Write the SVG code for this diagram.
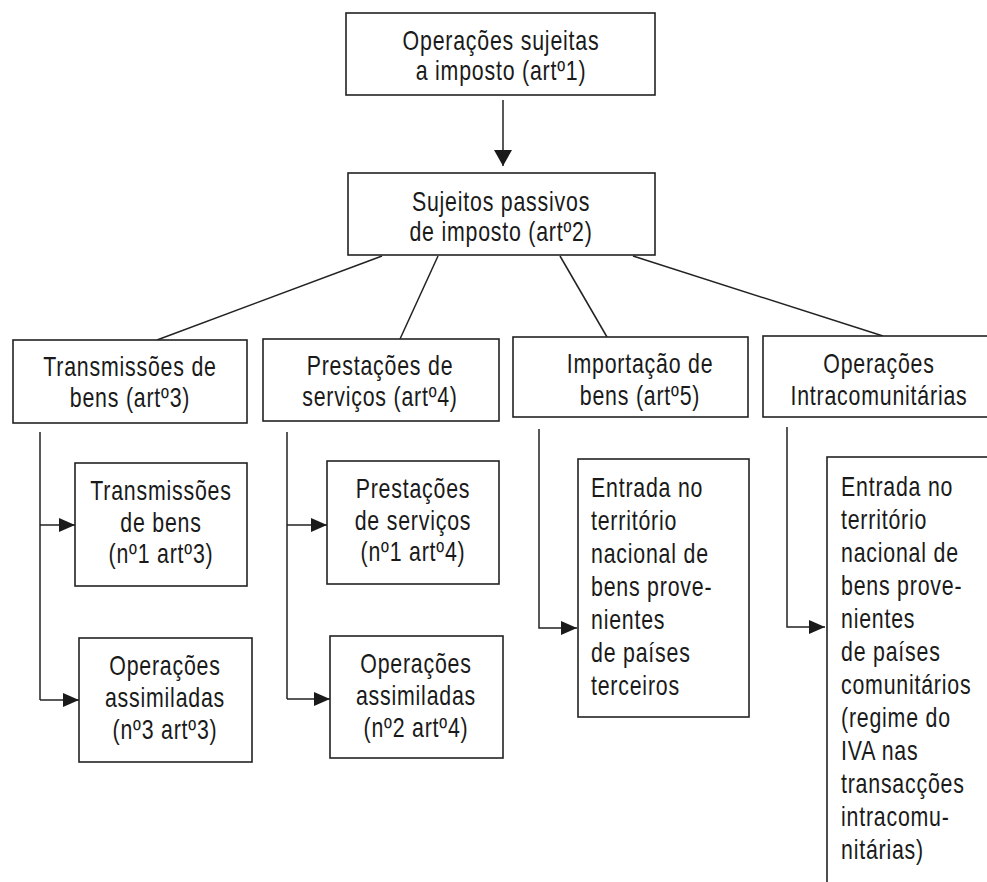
<svg xmlns="http://www.w3.org/2000/svg" width="987" height="882" viewBox="0 0 987 882">
<style>
.box{fill:#fff;stroke:#222;stroke-width:1.6}
.ln{fill:none;stroke:#222;stroke-width:1.5}
text{font-family:"Liberation Sans",Arial,sans-serif;font-size:27px;fill:#1a1a1a;letter-spacing:1px}
.c{text-anchor:middle}
</style>
<defs>
<marker id="ah" viewBox="0 0 16 14" refX="16" refY="7" markerWidth="16" markerHeight="14" markerUnits="userSpaceOnUse" orient="auto">
<path d="M0,0 L16,7 L0,14 Z" fill="#1a1a1a"/>
</marker>
<marker id="ahv" viewBox="0 0 16 18" refX="16" refY="9" markerWidth="16" markerHeight="18" markerUnits="userSpaceOnUse" orient="auto">
<path d="M0,0 L16,9 L0,18 Z" fill="#1a1a1a"/>
</marker>
</defs>
<rect width="987" height="882" fill="#fff"/>
<g id="connectors">
<line class="ln" x1="503" y1="100" x2="503" y2="166" marker-end="url(#ahv)"/>
<line class="ln" x1="382" y1="256" x2="157" y2="340"/>
<line class="ln" x1="438" y1="256" x2="400" y2="339"/>
<line class="ln" x1="560" y1="256" x2="607" y2="337"/>
<line class="ln" x1="633" y1="256" x2="883" y2="336"/>
<path class="ln" d="M40,432 V700"/>
<line class="ln" x1="40" y1="525" x2="75" y2="525" marker-end="url(#ah)"/>
<line class="ln" x1="40" y1="700" x2="79" y2="700" marker-end="url(#ah)"/>
<path class="ln" d="M287,432 V699"/>
<line class="ln" x1="287" y1="525" x2="327" y2="525" marker-end="url(#ah)"/>
<line class="ln" x1="287" y1="699" x2="330" y2="699" marker-end="url(#ah)"/>
<path class="ln" d="M539,429 V628 H577" marker-end="url(#ah)"/>
<path class="ln" d="M787,427 V627 H825" marker-end="url(#ah)"/>
</g>
<g id="n-operacoes">
<rect class="box" x="346" y="13" width="309" height="82"/>
<text class="c" transform="matrix(0.79 0 0 1 501 50)">Operações sujeitas</text>
<text class="c" transform="matrix(0.79 0 0 1 501 80)">a imposto (artº1)</text>
</g>
<g id="n-sujeitos">
<rect class="box" x="348" y="173" width="307" height="82"/>
<text class="c" transform="matrix(0.79 0 0 1 501 211)">Sujeitos passivos</text>
<text class="c" transform="matrix(0.79 0 0 1 501 241)">de imposto (artº2)</text>
</g>
<g id="n-transmissoes">
<rect class="box" x="13" y="340" width="234" height="83"/>
<text class="c" transform="matrix(0.79 0 0 1 130 376)">Transmissões de</text>
<text class="c" transform="matrix(0.79 0 0 1 130 407)">bens (artº3)</text>
</g>
<g id="n-prestacoes">
<rect class="box" x="263" y="339" width="236" height="82"/>
<text class="c" transform="matrix(0.79 0 0 1 380 375)">Prestações de</text>
<text class="c" transform="matrix(0.79 0 0 1 380 406)">serviços (artº4)</text>
</g>
<g id="n-importacao">
<rect class="box" x="513" y="337" width="235" height="80"/>
<text class="c" transform="matrix(0.79 0 0 1 640 373)">Importação de</text>
<text class="c" transform="matrix(0.79 0 0 1 640 405)">bens (artº5)</text>
</g>
<g id="n-intracom">
<rect class="box" x="763" y="336" width="240" height="81"/>
<text class="c" transform="matrix(0.79 0 0 1 879 373)">Operações</text>
<text class="c" transform="matrix(0.79 0 0 1 879 405)">Intracomunitárias</text>
</g>
<g id="n-trans-n1">
<rect class="box" x="75" y="463" width="172" height="123"/>
<text class="c" transform="matrix(0.79 0 0 1 161 500)">Transmissões</text>
<text class="c" transform="matrix(0.79 0 0 1 161 532)">de bens</text>
<text class="c" transform="matrix(0.79 0 0 1 161 563)">(nº1 artº3)</text>
</g>
<g id="n-trans-n3">
<rect class="box" x="79" y="638" width="173" height="124"/>
<text class="c" transform="matrix(0.79 0 0 1 165 675)">Operações</text>
<text class="c" transform="matrix(0.79 0 0 1 165 707)">assimiladas</text>
<text class="c" transform="matrix(0.79 0 0 1 165 739)">(nº3 artº3)</text>
</g>
<g id="n-prest-n1">
<rect class="box" x="327" y="461" width="172" height="123"/>
<text class="c" transform="matrix(0.79 0 0 1 413 498)">Prestações</text>
<text class="c" transform="matrix(0.79 0 0 1 413 530)">de serviços</text>
<text class="c" transform="matrix(0.79 0 0 1 413 561)">(nº1 artº4)</text>
</g>
<g id="n-prest-n2">
<rect class="box" x="330" y="636" width="173" height="122"/>
<text class="c" transform="matrix(0.79 0 0 1 416 673)">Operações</text>
<text class="c" transform="matrix(0.79 0 0 1 416 705)">assimiladas</text>
<text class="c" transform="matrix(0.79 0 0 1 416 737)">(nº2 artº4)</text>
</g>
<g id="n-entrada-terceiros">
<rect class="box" x="578" y="459" width="171" height="258"/>
<text transform="matrix(0.79 0 0 1 591 497)">Entrada no</text>
<text transform="matrix(0.79 0 0 1 591 530)">território</text>
<text transform="matrix(0.79 0 0 1 591 563)">nacional de</text>
<text transform="matrix(0.79 0 0 1 591 596)">bens prove-</text>
<text transform="matrix(0.79 0 0 1 591 629)">nientes</text>
<text transform="matrix(0.79 0 0 1 591 662)">de países</text>
<text transform="matrix(0.79 0 0 1 591 695)">terceiros</text>
</g>
<g id="n-entrada-comunitarios">
<rect class="box" x="827" y="457" width="200" height="460"/>
<text transform="matrix(0.79 0 0 1 841 496)">Entrada no</text>
<text transform="matrix(0.79 0 0 1 841 529)">território</text>
<text transform="matrix(0.79 0 0 1 841 562)">nacional de</text>
<text transform="matrix(0.79 0 0 1 841 595)">bens prove-</text>
<text transform="matrix(0.79 0 0 1 841 628)">nientes</text>
<text transform="matrix(0.79 0 0 1 841 661)">de países</text>
<text transform="matrix(0.79 0 0 1 841 694)">comunitários</text>
<text transform="matrix(0.79 0 0 1 841 727)">(regime do</text>
<text transform="matrix(0.79 0 0 1 841 760)">IVA nas</text>
<text transform="matrix(0.79 0 0 1 841 793)">transacções</text>
<text transform="matrix(0.79 0 0 1 841 826)">intracomu-</text>
<text transform="matrix(0.79 0 0 1 841 859)">nitárias)</text>
</g>
</svg>
